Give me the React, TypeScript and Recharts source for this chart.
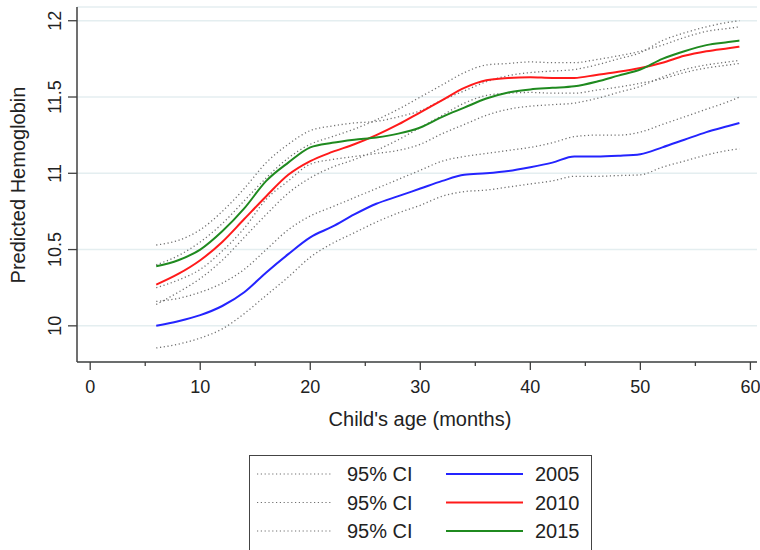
import React from 'react';
import { LineChart, Line, XAxis, YAxis, CartesianGrid, Label } from 'recharts';

const ages = [6, 8, 10, 12, 14, 16, 18, 20, 22, 24, 26, 28, 30, 32, 34, 36, 38, 40, 42, 44, 46, 48, 50, 52, 54, 56, 58, 59];

const mean2005 = [10.0, 10.03, 10.07, 10.13, 10.22, 10.35, 10.47, 10.58, 10.65, 10.73, 10.8, 10.85, 10.9, 10.95, 10.99, 11.0, 11.015, 11.04, 11.07, 11.11, 11.11, 11.115, 11.125, 11.17, 11.22, 11.27, 11.31, 11.33];
const upper2005 = [10.16, 10.18, 10.22, 10.28, 10.37, 10.5, 10.63, 10.72, 10.78, 10.84, 10.9, 10.96, 11.02, 11.08, 11.11, 11.13, 11.15, 11.17, 11.2, 11.24, 11.25, 11.25, 11.27, 11.32, 11.37, 11.42, 11.47, 11.5];
const lower2005 = [9.855, 9.88, 9.92, 9.98, 10.08, 10.2, 10.32, 10.45, 10.54, 10.61, 10.68, 10.74, 10.79, 10.85, 10.88, 10.89, 10.91, 10.93, 10.95, 10.98, 10.98, 10.985, 10.99, 11.04, 11.08, 11.12, 11.15, 11.16];

const mean2010 = [10.27, 10.34, 10.43, 10.55, 10.7, 10.85, 10.99, 11.08, 11.14, 11.19, 11.25, 11.32, 11.4, 11.48, 11.56, 11.61, 11.625, 11.63, 11.625, 11.625, 11.645, 11.665, 11.69, 11.725, 11.77, 11.8, 11.82, 11.83];
const upper2010 = [10.4, 10.46, 10.55, 10.67, 10.82, 10.97, 11.1, 11.19, 11.24, 11.29, 11.35, 11.42, 11.5, 11.58, 11.66, 11.71, 11.72, 11.73, 11.725, 11.725, 11.745, 11.77, 11.8, 11.84, 11.89, 11.93, 11.95, 11.96];
const lower2010 = [10.14, 10.22, 10.31, 10.43, 10.58, 10.73, 10.87, 10.97, 11.04, 11.09, 11.15, 11.22, 11.3, 11.38, 11.46, 11.51, 11.525, 11.53, 11.525, 11.525, 11.545, 11.565, 11.59, 11.62, 11.66, 11.69, 11.71, 11.72];

const mean2015 = [10.39, 10.43, 10.5, 10.62, 10.77, 10.95, 11.07, 11.17, 11.2, 11.22, 11.235, 11.26, 11.3, 11.37, 11.43, 11.49, 11.53, 11.55, 11.56, 11.57, 11.6, 11.64, 11.68, 11.75, 11.8, 11.84, 11.86, 11.87];
const upper2015 = [10.53, 10.56, 10.63, 10.75, 10.9, 11.07, 11.19, 11.28, 11.31, 11.33, 11.34, 11.37, 11.41, 11.48, 11.54, 11.6, 11.64, 11.66, 11.67, 11.68, 11.71, 11.75, 11.79, 11.87, 11.92, 11.96, 11.99, 12.0];
const lower2015 = [10.25, 10.3, 10.37, 10.49, 10.64, 10.83, 10.95, 11.06, 11.09, 11.11, 11.13, 11.15, 11.19, 11.26, 11.32, 11.38, 11.42, 11.44, 11.45, 11.46, 11.49, 11.53, 11.57, 11.63, 11.68, 11.71, 11.73, 11.74];

const xTicks = [0, 5, 10, 15, 20, 25, 30, 35, 40, 45, 50, 55, 60];
const yTicks = [10, 10.5, 11, 11.5, 12];
const years = ['2005', '2010', '2015'];
const colors = ['#2424ff', '#ff1a1a', '#1f8a1f'];
const ciLabel = '95% CI';

const data = ages.map((age, i) => ({
  age,
  m2005: mean2005[i], u2005: upper2005[i], l2005: lower2005[i],
  m2010: mean2010[i], u2010: upper2010[i], l2010: lower2010[i],
  m2015: mean2015[i], u2015: upper2015[i], l2015: lower2015[i],
}));

const FONT = '"Liberation Sans", Arial, sans-serif';
const AXIS = '#404040';
const CI_COLOR = '#707070';

const XTick = (props: any) => {
  const { x, y, payload } = props;
  const major = payload.value % 10 === 0;
  return (
    <g>
      <line x1={x} x2={x} y1={y} y2={y + (major ? 8 : 4)} stroke={AXIS} strokeWidth={1.3} />
      {major && (
        <text x={x} y={y + 31} textAnchor="middle" fontSize={18} fontFamily={FONT} fill="#222">
          {payload.value}
        </text>
      )}
    </g>
  );
};

const YTick = (props: any) => {
  const { x, y, payload } = props;
  return (
    <g>
      <line x1={x - 9} x2={x} y1={y} y2={y} stroke={AXIS} strokeWidth={1.3} />
      <text
        x={55}
        y={y}
        transform={`rotate(-90, 55, ${y})`}
        textAnchor="middle"
        dominantBaseline="central"
        fontSize={18}
        fontFamily={FONT}
        fill="#222"
      >
        {payload.value}
      </text>
    </g>
  );
};

export default function App() {
  return (
    <div style={{ position: 'absolute', left: 0, top: 0, width: 760, height: 550, background: '#fff' }}>
      <LineChart width={760} height={550} data={data} margin={{ top: 7, right: 3, left: 0, bottom: 128 }}>
        <CartesianGrid vertical={false} stroke="#e4eef0" strokeWidth={1.5} />
        <XAxis
          dataKey="age"
          type="number"
          domain={[-1.2, 60.6]}
          ticks={xTicks}
          interval={0}
          allowDataOverflow
          tickSize={0}
          tickMargin={0}
          tickLine={false}
          axisLine={{ stroke: AXIS, strokeWidth: 1.5 }}
          tick={<XTick />}
          height={60}
        >
          <Label
            content={() => (
              <text x={420} y={426} textAnchor="middle" fontSize={20} fontFamily={FONT} fill="#222">
                Child's age (months)
              </text>
            )}
          />
        </XAxis>
        <YAxis
          type="number"
          domain={[9.763, 12.09]}
          ticks={yTicks}
          interval={0}
          allowDataOverflow
          tickSize={0}
          tickMargin={0}
          tickLine={false}
          axisLine={{ stroke: AXIS, strokeWidth: 1.5 }}
          tick={<YTick />}
          width={77}
        >
          <Label
            content={() => (
              <text
                x={18}
                y={185}
                transform="rotate(-90, 18, 185)"
                textAnchor="middle"
                dominantBaseline="central"
                fontSize={20}
                fontFamily={FONT}
                fill="#222"
              >
                Predicted Hemoglobin
              </text>
            )}
          />
        </YAxis>
        {years.map((yr) => (
          <Line key={'u' + yr} type="monotone" dataKey={'u' + yr} stroke={CI_COLOR} strokeWidth={1.3} strokeDasharray="1.2 2.6" dot={false} isAnimationActive={false} />
        ))}
        {years.map((yr) => (
          <Line key={'l' + yr} type="monotone" dataKey={'l' + yr} stroke={CI_COLOR} strokeWidth={1.3} strokeDasharray="1.2 2.6" dot={false} isAnimationActive={false} />
        ))}
        {years.map((yr, i) => (
          <Line key={'m' + yr} type="monotone" dataKey={'m' + yr} stroke={colors[i]} strokeWidth={2} dot={false} isAnimationActive={false} />
        ))}
      </LineChart>
      <svg style={{ position: 'absolute', left: 249, top: 455 }} width={344} height={100}>
        <rect x={0.5} y={0.5} width={342} height={120} fill="#fff" stroke="#444" strokeWidth={1} />
        {years.map((yr, i) => {
          const cy = 19 + i * 28.5;
          return (
            <g key={yr}>
              <line x1={8} x2={84} y1={cy} y2={cy} stroke={CI_COLOR} strokeWidth={1.2} strokeDasharray="1.2 2.6" />
              <text x={98} y={cy} dominantBaseline="central" fontSize={20} fontFamily={FONT} fill="#222">{ciLabel}</text>
              <line x1={197} x2={274} y1={cy} y2={cy} stroke={colors[i]} strokeWidth={2} />
              <text x={286} y={cy} dominantBaseline="central" fontSize={20} fontFamily={FONT} fill="#222">{yr}</text>
            </g>
          );
        })}
      </svg>
    </div>
  );
}
